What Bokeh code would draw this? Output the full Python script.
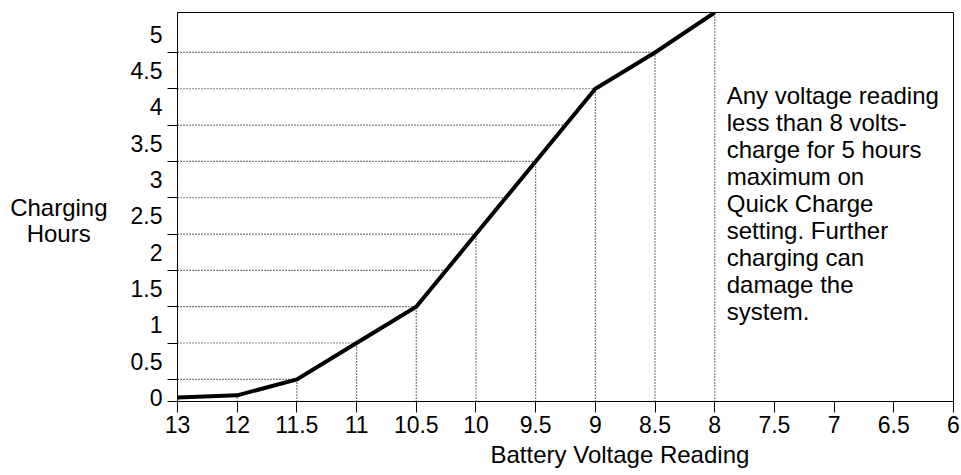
import numpy as np
from bokeh.plotting import figure
from bokeh.models import Range1d, FixedTicker, Label, Title
from bokeh.embed import file_html
from bokeh.resources import INLINE

# ---- data ----
voltage_labels = ["13", "12", "11.5", "11", "10.5", "10", "9.5", "9",
                  "8.5", "8", "7.5", "7", "6.5", "6"]
curve_voltages = ["13", "12", "11.5", "11", "10.5", "10", "9.5", "9", "8.5", "8"]
charging_hours = [0.0, 0.03, 0.25, 0.75, 1.25, 2.25, 3.25, 4.25, 4.75, 5.3]
hour_tick_values = [0, 0.5, 1, 1.5, 2, 2.5, 3, 3.5, 4, 4.5, 5]
hour_tick_labels = ["0", "0.5", "1", "1.5", "2", "2.5", "3", "3.5", "4", "4.5", "5"]
guide_levels = [0.25, 0.75, 1.25, 1.75, 2.25, 2.75, 3.25, 3.75, 4.25, 4.75]
note_lines = ["Any voltage reading", "less than 8 volts-", "charge for 5 hours",
              "maximum on", "Quick Charge", "setting. Further", "charging can",
              "damage the", "system."]

FONT = "Liberation Sans"
Y_START, Y_END = -0.055, 5.3

x_idx = [voltage_labels.index(v) for v in curve_voltages]

p = figure(width=961, height=475, output_backend="svg", toolbar_location=None,
           title=None,
           x_range=Range1d(0, len(voltage_labels) - 1),
           y_range=Range1d(Y_START, Y_END),
           min_border_left=177, min_border_right=8,
           min_border_top=12, min_border_bottom=74)
p.background_fill_color = "white"
p.border_fill_color = "white"
p.grid.visible = False
p.outline_line_color = "black"
p.outline_line_width = 1
p.outline_line_alpha = 1.0

# x axis
xa = p.xaxis[0]
xa.ticker = FixedTicker(ticks=list(range(len(voltage_labels))))
xa.major_label_overrides = {i: lab for i, lab in enumerate(voltage_labels)}
xa.major_tick_in = 0
xa.major_tick_out = 11
xa.minor_tick_line_color = None
xa.major_tick_line_color = "black"
xa.axis_line_color = "black"
xa.major_label_standoff = 3
xa.major_label_text_font = FONT
xa.major_label_text_font_size = "23px"
xa.major_label_text_color = "black"

# y axis
ya = p.yaxis[0]
ya.ticker = FixedTicker(ticks=hour_tick_values, minor_ticks=[Y_START] + guide_levels)
ya.major_label_overrides = {v: lab for v, lab in zip(hour_tick_values, hour_tick_labels)}
ya.major_tick_in = 0
ya.major_tick_out = 0
ya.minor_tick_in = 0
ya.minor_tick_out = 10
ya.minor_tick_line_color = "black"
ya.axis_line_color = "black"
ya.major_label_standoff = 5
ya.major_label_text_font = FONT
ya.major_label_text_font_size = "23px"
ya.major_label_text_color = "black"
# leading empty line moves the two-line title down; en+thin space centres "Hours"
ya.axis_label = "\nCharging\nHours\u2002\u2009"
ya.axis_label_orientation = "horizontal"
ya.axis_label_standoff = 20
ya.axis_label_text_font = FONT
ya.axis_label_text_font_size = "24px"
ya.axis_label_text_font_style = "normal"
ya.axis_label_text_color = "black"
ya.axis_label_text_line_height = 0.97

dots = dict(line_color="black", line_width=1.2, line_dash="1 2")

# vertical drop lines from the axis to the curve
p.segment(x0=x_idx, y0=[Y_START] * len(x_idx), x1=x_idx, y1=charging_hours, **dots)

# horizontal guide lines from the y axis to the curve
ends = np.interp(guide_levels, charging_hours, x_idx)
p.segment(x0=[0] * len(guide_levels), y0=guide_levels, x1=list(ends), y1=guide_levels, **dots)

# the curve
p.line(x=x_idx, y=charging_hours, line_color="black", line_width=4, line_join="miter")

# x title (offset to the right as in the original)
p.add_layout(Title(text="Battery Voltage Reading", align="left", offset=313,
                   text_font=FONT, text_font_size="24px", text_font_style="normal",
                   text_color="black", standoff=6), "below")

# note
p.add_layout(Label(x=voltage_labels.index("8"), x_offset=12, y=4.347,
                   text="\n".join(note_lines), text_align="left", text_baseline="top",
                   text_font=FONT, text_font_size="24px", text_color="black",
                   text_line_height=1.0))

open("out.html", "w").write(file_html(p, INLINE))
